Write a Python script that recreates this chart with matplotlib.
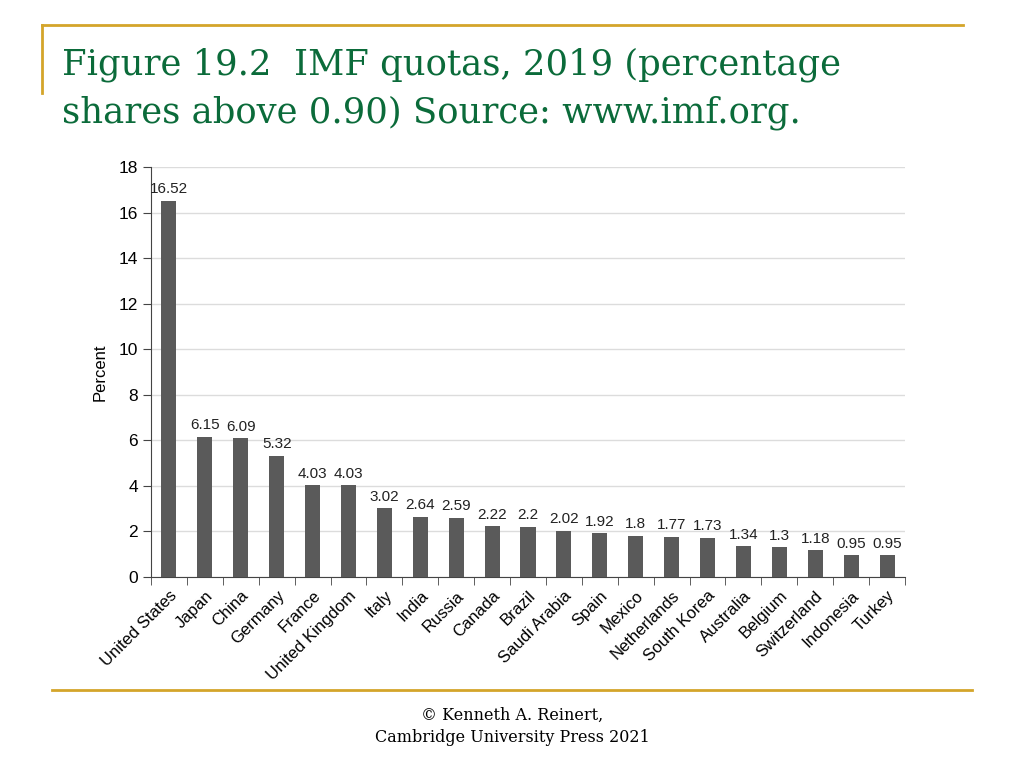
import numpy as np
import matplotlib.pyplot as plt
from matplotlib.lines import Line2D

countries = [
    "United States", "Japan", "China", "Germany", "France", "United Kingdom",
    "Italy", "India", "Russia", "Canada", "Brazil", "Saudi Arabia", "Spain",
    "Mexico", "Netherlands", "South Korea", "Australia", "Belgium",
    "Switzerland", "Indonesia", "Turkey",
]
quotas = [16.52, 6.15, 6.09, 5.32, 4.03, 4.03, 3.02, 2.64, 2.59, 2.22, 2.2,
          2.02, 1.92, 1.8, 1.77, 1.73, 1.34, 1.3, 1.18, 0.95, 0.95]
value_labels = ["16.52", "6.15", "6.09", "5.32", "4.03", "4.03", "3.02", "2.64",
                "2.59", "2.22", "2.2", "2.02", "1.92", "1.8", "1.77", "1.73",
                "1.34", "1.3", "1.18", "0.95", "0.95"]
y_ticks = [0, 2, 4, 6, 8, 10, 12, 14, 16, 18]
title_lines = ["Figure 19.2  IMF quotas, 2019 (percentage",
               "shares above 0.90) Source: www.imf.org."]
footer_lines = ["© Kenneth A. Reinert,", "Cambridge University Press 2021"]

gold = "#D4A52A"
green = "#0B6B3A"
sans = ["Liberation Sans", "DejaVu Sans"]

fig = plt.figure(figsize=(10.24, 7.68), dpi=100)
fig.set_facecolor("white")

# slide decoration
fig.add_artist(Line2D([42 / 1024, 963 / 1024], [1 - 25 / 768] * 2, color=gold, lw=2))
fig.add_artist(Line2D([42 / 1024] * 2, [1 - 25 / 768, 1 - 93 / 768], color=gold, lw=2))
fig.add_artist(Line2D([52 / 1024, 972 / 1024], [1 - 690 / 768] * 2, color=gold, lw=2))

for i, line in enumerate(title_lines):
    fig.text(62 / 1024, 1 - (75 + 48 * i) / 768, line, family="DejaVu Serif",
             fontsize=25.5, color=green, va="baseline", ha="left")
for i, line in enumerate(footer_lines):
    fig.text(0.5, 1 - (720 + 22 * i) / 768, line, family="DejaVu Serif",
             fontsize=11.5, color="black", va="baseline", ha="center")

ax = fig.add_axes([151 / 1024, 1 - 577 / 768, (905 - 151) / 1024, (577 - 167) / 768])
x = np.arange(len(countries))
ax.bar(x, quotas, width=0.42, color="#5A5A5A", zorder=3)
for xi, q, lab in zip(x, quotas, value_labels):
    ax.text(xi, q + 0.2, lab, ha="center", va="bottom", fontsize=11,
            family=sans, color="#222222")

ax.set_xlim(-0.5, len(countries) - 0.5)
ax.set_ylim(0, 18)
ax.set_yticks(y_ticks)
ax.yaxis.grid(True, color="#DCDCDC", lw=1, zorder=0)
ax.set_xticks(x)
ax.set_xticklabels(countries, rotation=45, ha="right", rotation_mode="anchor",
                   fontsize=12, family=sans)
ax.set_xticks(np.arange(-0.5, len(countries)), minor=True)
ax.tick_params(axis="x", which="major", length=0, pad=8)
ax.tick_params(axis="x", which="minor", length=6, color="#444444")
ax.tick_params(axis="y", length=6, color="#444444", labelsize=12.5)
for lab in ax.get_yticklabels():
    lab.set_family(sans)
ax.set_ylabel("Percent", family=sans, fontsize=12, labelpad=8)
for s in ["top", "right"]:
    ax.spines[s].set_visible(False)
for s in ["left", "bottom"]:
    ax.spines[s].set_color("#444444")

fig.savefig("out.png", dpi=100, facecolor="white")
